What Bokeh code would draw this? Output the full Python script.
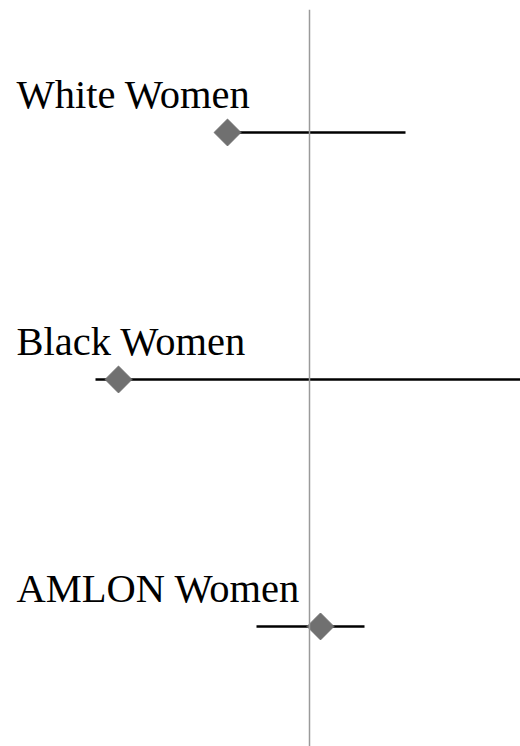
import math
from bokeh.plotting import figure
from bokeh.models import Range1d, Span, ColumnDataSource
from bokeh.core.properties import value
from bokeh.embed import file_html
from bokeh.resources import INLINE

groups = ["White Women", "Black Women", "AMLON Women"]
estimates = [-0.41, -0.955, 0.055]
lower = [-0.45, -1.07, -0.265]
upper = [0.48, 1.3, 0.275]
ypos = [0, 1, 2]

src = ColumnDataSource(dict(group=groups, est=estimates, lo=lower, hi=upper, y=ypos))

x_start, x_end = -1.545, 1.055
p = figure(width=520, height=746, output_backend="svg", toolbar_location=None,
           x_range=Range1d(x_start, x_end), y_range=Range1d(2.486, -0.498),
           min_border=0, min_border_top=9)
p.axis.visible = False
p.grid.visible = False
p.outline_line_color = None
p.background_fill_color = "white"
p.border_fill_color = "white"

p.add_layout(Span(location=0, dimension="height", line_color="#9a9a9a", line_width=1.5))

p.segment(x0="lo", y0="y", x1="hi", y1="y", source=src, line_color="black", line_width=2.5)
p.scatter(x="est", y="y", source=src, marker="square", size=19, angle=math.pi / 4,
          fill_color="#707070", line_color="#707070")

lab = ColumnDataSource(dict(x=[x_start] * 3, y=ypos, text=groups))
p.text(x="x", y="y", text="text", source=lab, x_offset=16, y_offset=-38,
       text_font=value("Liberation Serif"), text_font_size="40.5px",
       text_baseline="alphabetic", text_align="left", text_color="black")

open("out.html", "w").write(file_html(p, INLINE))
